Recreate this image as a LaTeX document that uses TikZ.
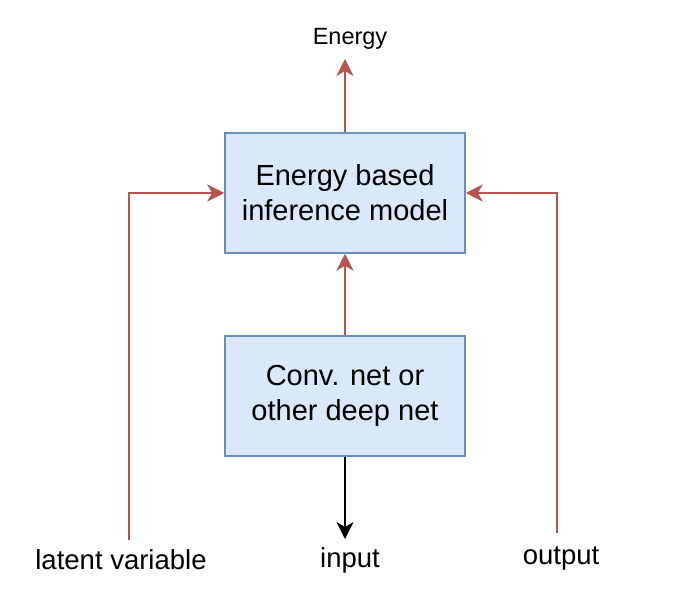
\documentclass[tikz,border=0pt]{standalone}
\usepackage{fontspec}
\setmainfont{Liberation Sans}
\usetikzlibrary{arrows.meta}
\definecolor{boxfill}{HTML}{DAE8FC}
\definecolor{boxline}{HTML}{6C8EBF}
\definecolor{redline}{HTML}{B85450}
\begin{document}
\begin{tikzpicture}[x=1pt,y=-1pt,
  box/.style={draw=boxline,fill=boxfill,line width=1.5pt,minimum width=240pt,minimum height=120pt,align=center,inner sep=0pt,font=\fontsize{29}{35}\selectfont},
  lbl/.style={font=\fontsize{27.5}{32}\selectfont,inner sep=0pt},
  redarrow/.style={draw=redline,line width=1.5pt,-{Stealth[length=17pt,width=17pt,inset=5pt]}},
  blkarrow/.style={draw=black,line width=1.5pt,-{Stealth[length=17pt,width=17pt,inset=5pt]}}]
\useasboundingbox (0,0) rectangle (688,596);
\node[box] (ebm) at (345,193) {Energy based\\inference model};
\node[box] (cnn) at (345,396) {Conv. net or\\other deep net};
\node[inner sep=0pt,font=\fontsize{23.5}{28}\selectfont] (energy) at (350,39) {Energy};
\coordinate (etip) at (345,59);
\node[lbl] (latent) at (121,560) {latent variable};
\node[lbl] (input) at (350,560) {input};
\node[lbl] (output) at (561,558) {output};
\coordinate (lstart) at (129,540);
\coordinate (rstart) at (557,533);
\coordinate (itip) at (345,539);
\draw[redarrow] (ebm.north) -- (etip);
\draw[redarrow] (cnn.north) -- (ebm.south);
\draw[redarrow] (lstart) |- (ebm.west);
\draw[redarrow] (rstart) |- (ebm.east);
\draw[blkarrow] (cnn.south) -- (itip);
\end{tikzpicture}
\end{document}
